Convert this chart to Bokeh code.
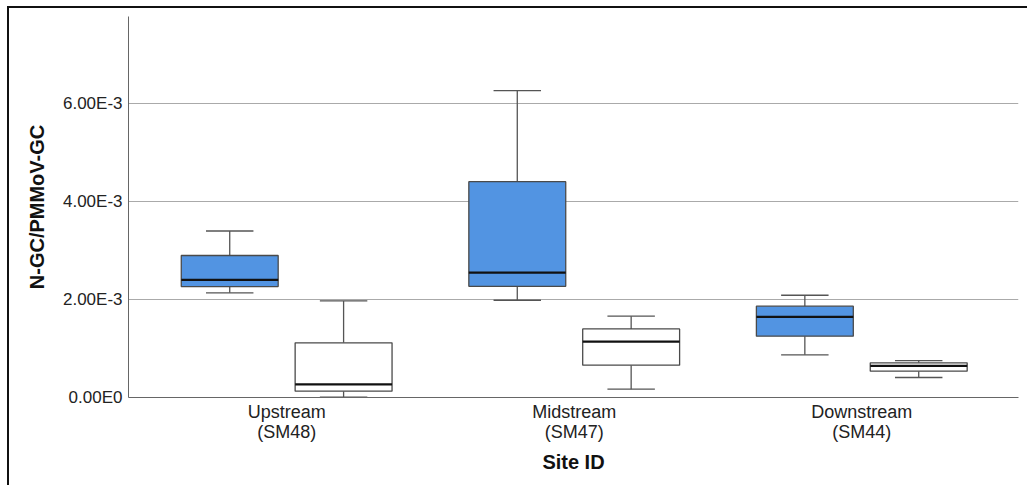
from bokeh.plotting import figure
from bokeh.models import Range1d, FixedTicker, ColumnDataSource
from bokeh.embed import file_html
from bokeh.resources import INLINE

# ---- data ----
sites = ["Upstream\n(SM48)", "Midstream\n(SM47)", "Downstream\n(SM44)"]
site_pos = [1, 2, 3]
y_ticks = [0.0, 0.002, 0.004, 0.006]
y_tick_labels = ["0.00E0", "2.00E-3", "4.00E-3", "6.00E-3"]

# group A (blue)
a_low = [2.137e-3, 1.986e-3, 0.871e-3]
a_q1 = [2.265e-3, 2.270e-3, 1.252e-3]
a_med = [2.400e-3, 2.551e-3, 1.646e-3]
a_q3 = [2.900e-3, 4.408e-3, 1.864e-3]
a_high = [3.400e-3, 6.265e-3, 2.088e-3]

# group B (white)
b_low = [0.005e-3, 0.170e-3, 0.408e-3]
b_q1 = [0.130e-3, 0.660e-3, 0.537e-3]
b_med = [0.270e-3, 1.143e-3, 0.647e-3]
b_q3 = [1.116e-3, 1.400e-3, 0.708e-3]
b_high = [1.973e-3, 1.660e-3, 0.755e-3]

FONT = "Liberation Sans"
BOX_W = 0.337
CAP_W = 0.165
OFFSET = 0.198

p = figure(width=1020, height=479, output_backend="svg", toolbar_location=None,
           x_range=Range1d(0.45, 3.545), y_range=Range1d(0, 7.78e-3),
           min_border_left=119, min_border_right=11, min_border_top=8,
           min_border_bottom=90)
p.styles = {"border-top": "2px solid #111111", "border-left": "2px solid #111111",
            "margin-left": "7px", "margin-top": "6px"}
p.outline_line_color = None
p.background_fill_color = "white"

def draw_group(dx, low, q1, med, q3, high, fill):
    xs = [s + dx for s in site_pos]
    src = ColumnDataSource(dict(x=xs, low=low, q1=q1, med=med, q3=q3, high=high,
                                cl=[x - CAP_W / 2 for x in xs],
                                cr=[x + CAP_W / 2 for x in xs],
                                bl=[x - BOX_W / 2 for x in xs],
                                br=[x + BOX_W / 2 for x in xs]))
    p.segment(x0="x", y0="q3", x1="x", y1="high", source=src, line_color="#555555", line_width=1.3)
    p.segment(x0="x", y0="low", x1="x", y1="q1", source=src, line_color="#555555", line_width=1.3)
    p.segment(x0="cl", y0="high", x1="cr", y1="high", source=src, line_color="#555555", line_width=1.3)
    p.segment(x0="cl", y0="low", x1="cr", y1="low", source=src, line_color="#555555", line_width=1.3)
    p.vbar(x="x", width=BOX_W, bottom="q1", top="q3", source=src, fill_color=fill,
           line_color="#4a4a4a", line_width=1.3)
    p.segment(x0="bl", y0="med", x1="br", y1="med", source=src, line_color="#111111", line_width=2.2)

draw_group(-OFFSET, a_low, a_q1, a_med, a_q3, a_high, "#5294e2")
draw_group(OFFSET, b_low, b_q1, b_med, b_q3, b_high, "white")

# y axis
p.yaxis.ticker = FixedTicker(ticks=y_ticks)
p.yaxis.major_label_overrides = {t: l for t, l in zip(y_ticks, y_tick_labels)}
p.yaxis.axis_label = "N-GC/PMMoV-GC"
p.yaxis.axis_label_text_font = FONT
p.yaxis.axis_label_text_font_style = "bold"
p.yaxis.axis_label_text_font_size = "20px"
p.yaxis.axis_label_text_color = "#111111"
p.yaxis.axis_label_standoff = 12
p.yaxis.major_label_text_font = FONT
p.yaxis.major_label_text_font_size = "17px"
p.yaxis.major_label_text_color = "#222222"
p.yaxis.major_label_standoff = 6
p.yaxis.major_tick_out = 0
p.yaxis.major_tick_in = 0
p.yaxis.minor_tick_out = 0
p.yaxis.major_tick_line_color = None
p.yaxis.minor_tick_line_color = None
p.yaxis.axis_line_color = "#666666"

# x axis
p.xaxis.ticker = FixedTicker(ticks=site_pos)
p.xaxis.major_label_overrides = {t: l for t, l in zip(site_pos, sites)}
p.xaxis.axis_label = "Site ID"
p.xaxis.axis_label_text_font = FONT
p.xaxis.axis_label_text_font_style = "bold"
p.xaxis.axis_label_text_font_size = "20px"
p.xaxis.axis_label_text_color = "#111111"
p.xaxis.axis_label_standoff = 6
p.xaxis.major_label_text_font = FONT
p.xaxis.major_label_text_font_size = "18px"
p.xaxis.major_label_text_line_height = 1.0
p.xaxis.major_label_text_color = "#222222"
p.xaxis.major_label_standoff = 4
p.xaxis.major_tick_out = 0
p.xaxis.major_tick_in = 0
p.xaxis.minor_tick_out = 0
p.xaxis.major_tick_line_color = None
p.xaxis.minor_tick_line_color = None
p.xaxis.axis_line_color = "#666666"

p.xgrid.grid_line_color = None
p.ygrid.ticker = FixedTicker(ticks=y_ticks[1:])
p.ygrid.grid_line_color = "#aaaaaa"
p.ygrid.grid_line_width = 1

open("out.html", "w").write(file_html(p, INLINE))
